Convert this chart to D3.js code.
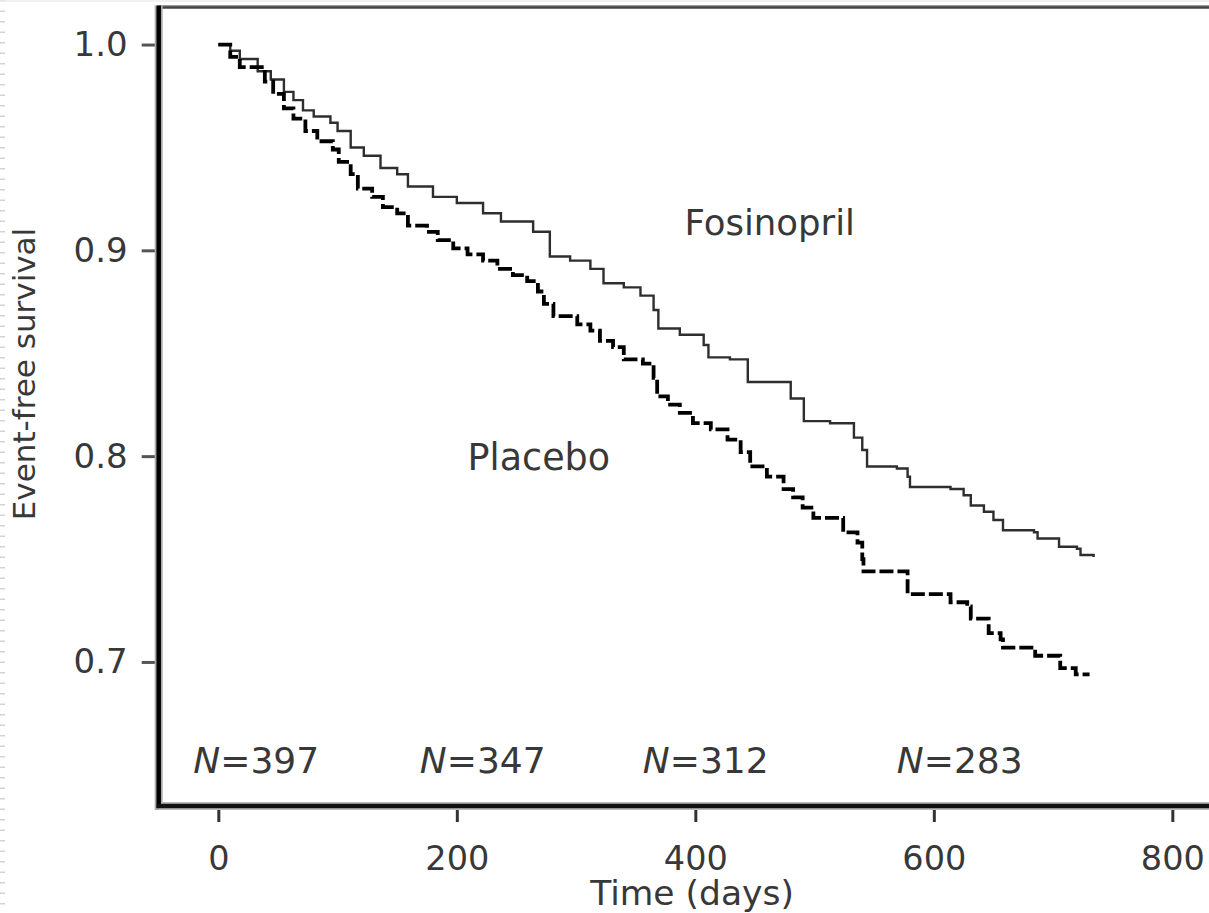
<!DOCTYPE html>
<html lang="en">
<head>
  <meta charset="UTF-8">
  <title>Event-free survival: Fosinopril vs Placebo</title>
  <script src="https://d3js.org/d3.v7.min.js"></script>
  <style>
    body { margin: 0; background: #fff; }
    svg { display: block; }
    text { font-family: "DejaVu Sans", Verdana, sans-serif; fill: #383838; }
  </style>
</head>
<body>
  <div id="vis"></div>

  <script>
    // Kaplan-Meier steps: [day, survival]
    const fosinopril = [
      [0, 1.000], [10, 0.997], [18, 0.993], [33, 0.987], [44, 0.983], [55, 0.977], [63, 0.973],
      [71, 0.968], [80, 0.965], [94, 0.962], [100, 0.958], [111, 0.950], [122, 0.946], [136, 0.940],
      [150, 0.937], [159, 0.931], [180, 0.926], [200, 0.923], [222, 0.918], [237, 0.914], [264, 0.909],
      [278, 0.897], [295, 0.895], [312, 0.891], [323, 0.884], [340, 0.882], [354, 0.878], [365, 0.871],
      [369, 0.862], [387, 0.859], [407, 0.854], [411, 0.848], [429, 0.847], [444, 0.836], [460, 0.836],
      [480, 0.828], [491, 0.817], [513, 0.816], [533, 0.809], [540, 0.803], [544, 0.795], [569, 0.794],
      [578, 0.790], [580, 0.785], [614, 0.784], [625, 0.781], [631, 0.776], [642, 0.773], [650, 0.769],
      [658, 0.764], [684, 0.763], [687, 0.760], [704, 0.760], [705, 0.756], [720, 0.755], [723, 0.752],
      [734, 0.751]
    ];

    const placebo = [
      [0, 1.000], [10, 0.994], [18, 0.989], [39, 0.982], [46, 0.976], [55, 0.969], [63, 0.964],
      [73, 0.958], [83, 0.953], [96, 0.949], [101, 0.943], [111, 0.937], [117, 0.930], [129, 0.926],
      [138, 0.921], [150, 0.918], [159, 0.912], [175, 0.909], [184, 0.905], [197, 0.901], [209, 0.898],
      [222, 0.895], [234, 0.891], [247, 0.888], [259, 0.885], [268, 0.880], [273, 0.874], [281, 0.868],
      [301, 0.864], [312, 0.861], [320, 0.856], [331, 0.853], [340, 0.847], [356, 0.845], [365, 0.838],
      [368, 0.829], [377, 0.825], [387, 0.821], [398, 0.816], [413, 0.813], [427, 0.808], [438, 0.802],
      [446, 0.795], [460, 0.790], [474, 0.784], [482, 0.780], [490, 0.775], [499, 0.770], [524, 0.763],
      [536, 0.758], [540, 0.750], [541, 0.744], [578, 0.733], [614, 0.729], [628, 0.727], [631, 0.721],
      [646, 0.714], [656, 0.711], [658, 0.707], [685, 0.703], [706, 0.697], [719, 0.694], [729, 0.693]
    ];

    const xTicks = [0, 200, 400, 600, 800];
    const yTicks = [0.7, 0.8, 0.9, 1.0];

    const atRisk = ["397", "347", "312", "283"];
    const atRiskDay = [-21, 169, 356, 569];

    const W = 1209, H = 913;
    const frame = { left: 158.7, top: 7.5, bottom: 806 };

    const svg = d3.select("#vis").append("svg")
      .attr("width", W)
      .attr("height", H);

    const x = d3.scaleLinear()
      .domain([-50, 850])
      .range([frame.left, frame.left + 900 * 1.1925]);

    const y = d3.scaleLinear()
      .domain([0.63, 1.018])
      .range([frame.bottom, frame.top]);

    // faint scan artefacts at the page edge
    svg.append("line")
      .attr("x1", 2.5).attr("x2", 2.5).attr("y1", 0).attr("y2", H)
      .attr("stroke", "#d4d4d4").attr("stroke-width", 5)
      .attr("stroke-dasharray", "1.5,9");
    svg.append("line")
      .attr("x1", 0).attr("x2", W).attr("y1", 1).attr("y2", 1)
      .attr("stroke", "#ececec").attr("stroke-width", 1.5);

    // y axis
    const yAxis = svg.append("g")
      .attr("transform", `translate(${frame.left - 1},0)`)
      .call(d3.axisLeft(y).tickValues(yTicks).tickFormat(d3.format(".1f"))
        .tickSize(16).tickPadding(14));
    yAxis.select(".domain").remove();
    yAxis.selectAll("line").attr("stroke", "#555").attr("stroke-width", 3);
    yAxis.selectAll("text")
      .attr("font-size", 34)
      .attr("font-family", null)
      .attr("fill", "#383838");

    // x axis
    const xAxis = svg.append("g")
      .attr("transform", `translate(0,${frame.bottom + 1})`)
      .call(d3.axisBottom(x).tickValues(xTicks).tickFormat(d3.format("d"))
        .tickSize(15).tickPadding(24));
    xAxis.select(".domain").remove();
    xAxis.selectAll("line").attr("stroke", "#333").attr("stroke-width", 3);
    xAxis.selectAll("text")
      .attr("font-size", 33.5)
      .attr("font-family", null)
      .attr("fill", "#383838");

    // frame (right side runs off the picture)
    svg.append("line")
      .attr("x1", frame.left).attr("x2", W + 10)
      .attr("y1", frame.top - 1.5).attr("y2", frame.top - 1.5)
      .attr("stroke", "#9a9a9a").attr("stroke-width", 2);
    svg.append("line")
      .attr("x1", frame.left).attr("x2", W + 10)
      .attr("y1", frame.top).attr("y2", frame.top)
      .attr("stroke", "#444").attr("stroke-width", 2.5);

    svg.append("line")
      .attr("x1", frame.left).attr("x2", frame.left)
      .attr("y1", frame.top - 2).attr("y2", frame.bottom + 4)
      .attr("stroke", "#aaa").attr("stroke-width", 8);
    svg.append("line")
      .attr("x1", frame.left).attr("x2", W + 10)
      .attr("y1", frame.bottom).attr("y2", frame.bottom)
      .attr("stroke", "#bbb").attr("stroke-width", 8);
    svg.append("line")
      .attr("x1", frame.left).attr("x2", frame.left)
      .attr("y1", frame.top - 2).attr("y2", frame.bottom + 2)
      .attr("stroke", "#000").attr("stroke-width", 4.5);
    svg.append("line")
      .attr("x1", frame.left - 2).attr("x2", W + 10)
      .attr("y1", frame.bottom).attr("y2", frame.bottom)
      .attr("stroke", "#111").attr("stroke-width", 4.5);

    // survival curves
    const line = d3.line()
      .x(d => x(d[0]))
      .y(d => y(d[1]))
      .curve(d3.curveStepAfter);

    svg.append("path")
      .datum(fosinopril)
      .attr("fill", "none")
      .attr("stroke", "#2e2e2e")
      .attr("stroke-width", 2.4)
      .attr("d", line);

    svg.append("path")
      .datum(placebo)
      .attr("fill", "none")
      .attr("stroke", "#000")
      .attr("stroke-width", 3.8)
      .attr("stroke-dasharray", "14,4")
      .attr("d", line);

    // curve labels
    svg.append("text")
      .attr("x", x(391)).attr("y", y(0.9076))
      .attr("font-size", 35.5)
      .text("Fosinopril");

    svg.append("text")
      .attr("x", x(209)).attr("y", y(0.7934))
      .attr("font-size", 36.5)
      .text("Placebo");

    // numbers at risk
    atRisk.forEach((n, i) => {
      const t = svg.append("text")
        .attr("x", x(atRiskDay[i])).attr("y", y(0.6462))
        .attr("font-size", 36);
      t.append("tspan").attr("font-style", "italic").text("N");
      t.append("tspan").text("=" + n);
    });

    // axis titles
    svg.append("text")
      .attr("x", 692).attr("y", 905)
      .attr("text-anchor", "middle")
      .attr("font-size", 34.5)
      .text("Time (days)");

    svg.append("text")
      .attr("transform", "translate(35,374) rotate(-90)")
      .attr("text-anchor", "middle")
      .attr("font-size", 31)
      .text("Event-free survival");
  </script>
</body>
</html>
